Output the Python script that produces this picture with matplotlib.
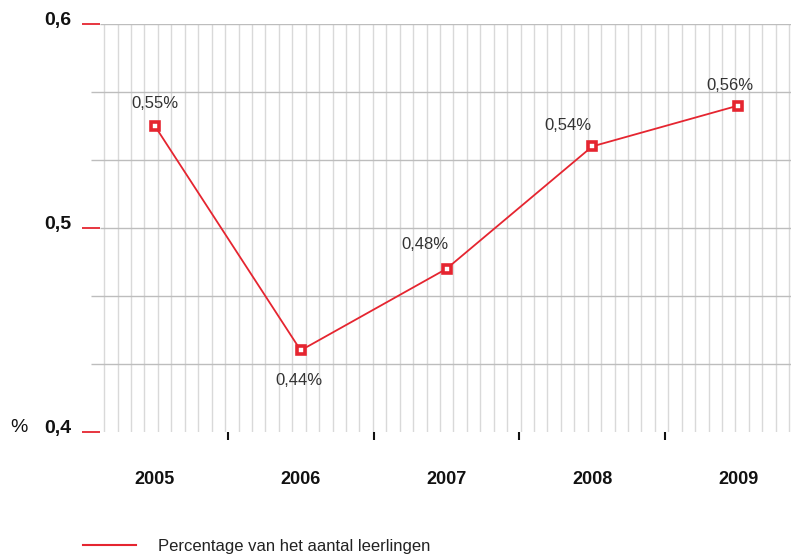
import numpy as np
import matplotlib
matplotlib.use("Agg")
import matplotlib.pyplot as plt

plt.rcParams['font.family'] = ['Liberation Sans', 'DejaVu Sans']

# data
years = ["2005", "2006", "2007", "2008", "2009"]
percentages = [0.55, 0.44, 0.48, 0.54, 0.56]
point_labels = ["0,55%", "0,44%", "0,48%", "0,54%", "0,56%"]
y_ticks = [0.4, 0.5, 0.6]
y_tick_labels = ["0,4", "0,5", "0,6"]
legend_label = "Percentage van het aantal leerlingen"

# label offsets in pixels (dx, dy) relative to the marker
label_offsets = [(0, 22), (-2, -30), (-22, 24), (-24, 21), (-8, 20)]

RED = "#e52530"
W, H = 791, 556
fig = plt.figure(figsize=(W / 100, H / 100), dpi=100)
# axes run from x=82px to beyond the right edge (image is cropped)
ax = fig.add_axes([82 / W, (H - 432) / H, 729 / W, 408 / H])
ax.set_xlim(-0.5, 4.5)
ax.set_ylim(0.4, 0.6)
for s in ax.spines.values():
    s.set_visible(False)

px = 1 / 145.8  # one pixel in x data units
# vertical fine grid
for gx in np.arange(-0.3477, 4.5, 13.43 * px):
    ax.axvline(gx, color="#d9d9d9", lw=1.0, zorder=0)
# horizontal grid every 1/30
for i, gy in enumerate(np.linspace(0.4, 0.6, 7)):
    if i == 0:
        continue
    start = -0.5 + (18 if i in (3, 6) else 9) * px
    ax.hlines(gy, start, 4.5, color="#bdbdbd", lw=1.0, zorder=0)

# red y ticks (inside), labels drawn as text sitting on the line
ax.set_yticks(y_ticks)
ax.set_yticklabels([])
ax.tick_params(axis="y", direction="in", length=13, width=1.3, color=RED)
for yv, lab in zip(y_ticks, y_tick_labels):
    ax.annotate(lab, (-0.5, yv), xytext=(-11 * 0.72, -1 * 0.72), textcoords="offset points",
                ha="right", va="baseline", fontsize=14, fontweight="bold",
                color="#111111", annotation_clip=False)

# x axis: labels centred on years, black ticks on the boundaries
x = np.arange(len(years))
ax.set_xticks(x)
ax.set_xticklabels(years, fontsize=13, fontweight="bold", color="#111111")
ax.tick_params(axis="x", which="major", length=0, pad=28)
ax.set_xticks(x[:-1] + 0.5, minor=True)
ax.tick_params(axis="x", which="minor", direction="out", length=6, width=1.5, color="#111111")

ax.plot(x, percentages, color=RED, lw=1.3, marker="s", markersize=6,
        markerfacecolor="white", markeredgecolor=RED, markeredgewidth=2.6,
        clip_on=False, zorder=5)

for xi, yi, lab, (dx, dy) in zip(x, percentages, point_labels, label_offsets):
    ax.annotate(lab, (xi, yi), xytext=(dx * 0.72, dy * 0.72), textcoords="offset points",
                ha="center", va="center", fontsize=12, color="#333333")

fig.text(10 / W, 1 - 432 / H, "%", fontsize=14, color="#111111", va="baseline", ha="left")

# legend
fig.add_artist(plt.Line2D([83 / W, 136 / W], [1 - 545 / H, 1 - 545 / H], color=RED, lw=1.5))
fig.text(158 / W, 1 - 546 / H, legend_label, fontsize=12, color="#222222", va="center", ha="left")

fig.savefig("out.png", dpi=100)
